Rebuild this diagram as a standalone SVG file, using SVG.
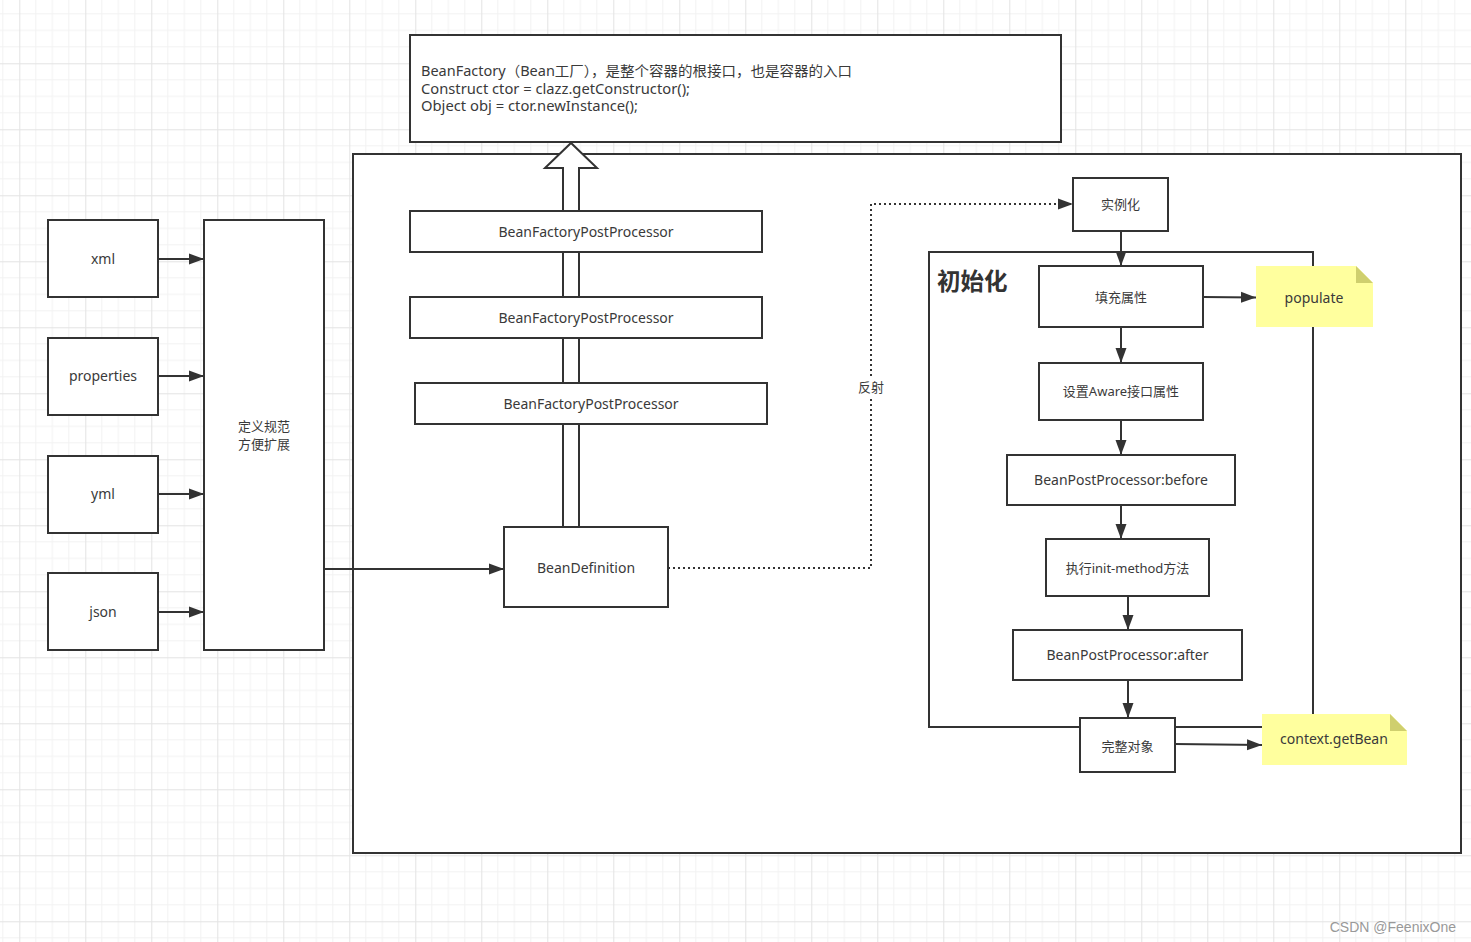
<svg xmlns="http://www.w3.org/2000/svg" width="1471" height="942" viewBox="0 0 1471 942">
<style>
.box{fill:#fff;stroke:#333;stroke-width:2}
.t{font-family:"Noto Sans","Noto Sans CJK SC",sans-serif;font-size:14px;fill:#3a3a3a;text-anchor:middle;dominant-baseline:central}
.tl{font-family:"Noto Sans","Noto Sans CJK SC",sans-serif;font-size:14px;fill:#3a3a3a}
.c{fill:none;stroke:#333;stroke-width:2}
.note{fill:#ffff9e}
.fold{fill:#cfcf6e}
</style>
<defs>
<pattern id="grid" patternUnits="userSpaceOnUse" x="19.3" y="63.3" width="66" height="66">
<path d="M16.5 0V66M33 0V66M49.5 0V66M0 16.5H66M0 33H66M0 49.5H66" stroke="#f2f2f2" stroke-width="1" fill="none"/>
<path d="M0.5 0V66M0 0.5H66" stroke="#e3e3e3" stroke-width="1" fill="none"/>
</pattern>
<marker id="arr" markerUnits="userSpaceOnUse" markerWidth="16" markerHeight="12" refX="15" refY="6" orient="auto">
<path d="M0 0.5L15 6L0 11.5Z" fill="#333"/>
</marker>
</defs>
<rect width="1471" height="942" fill="#fff"/>
<rect width="1471" height="942" fill="url(#grid)"/>

<g id="beanfactory">
<rect class="box" x="410" y="35" width="651" height="107"/>
<text class="tl" x="421" y="76" textLength="431" lengthAdjust="spacingAndGlyphs">BeanFactory（Bean工厂），是整个容器的根接口，也是容器的入口</text>
<text class="tl" x="421" y="94" textLength="269" lengthAdjust="spacingAndGlyphs">Construct ctor = clazz.getConstructor();</text>
<text class="tl" x="421" y="111" textLength="217" lengthAdjust="spacingAndGlyphs">Object obj = ctor.newInstance();</text>
</g>

<g id="container">
<rect class="box" x="353" y="154" width="1108" height="699" fill="none"/>
</g>

<g id="connectors">
<path d="M563 527V168H545L571 143L597 168H579V527" fill="#fff" stroke="#333" stroke-width="2"/>
<line class="c" x1="158" y1="259" x2="204" y2="259" marker-end="url(#arr)"/>
<line class="c" x1="158" y1="376" x2="204" y2="376" marker-end="url(#arr)"/>
<line class="c" x1="158" y1="494" x2="204" y2="494" marker-end="url(#arr)"/>
<line class="c" x1="158" y1="612" x2="204" y2="612" marker-end="url(#arr)"/>
<line class="c" x1="324" y1="569" x2="504" y2="569" marker-end="url(#arr)"/>
<path d="M668 568H871V204H1073" fill="none" stroke="#333" stroke-width="2" stroke-dasharray="2 3" marker-end="url(#arr)"/>
<rect x="856" y="378" width="30" height="18" fill="#fff"/>
<text class="t" x="871" y="387" style="font-size:13px">反射</text>
</g>

<g id="init-group">
<rect class="box" x="929" y="252" width="384" height="475" fill="none"/>
<text x="937" y="290" style="font-family:'Noto Sans CJK SC',sans-serif;font-size:23.5px;font-weight:bold;fill:#333">初始化</text>
</g>

<g id="connectors-right">
<line class="c" x1="1121" y1="231" x2="1121" y2="266" marker-end="url(#arr)"/>
<line class="c" x1="1203" y1="297" x2="1256" y2="297.5" marker-end="url(#arr)"/>
<line class="c" x1="1121" y1="327" x2="1121" y2="363" marker-end="url(#arr)"/>
<line class="c" x1="1121" y1="420" x2="1121" y2="455" marker-end="url(#arr)"/>
<line class="c" x1="1121" y1="505" x2="1121" y2="539" marker-end="url(#arr)"/>
<line class="c" x1="1128" y1="596" x2="1128" y2="630" marker-end="url(#arr)"/>
<line class="c" x1="1128" y1="680" x2="1128" y2="718" marker-end="url(#arr)"/>
<line class="c" x1="1175" y1="744" x2="1262" y2="745" marker-end="url(#arr)"/>
</g>

<g id="bfpp1"><rect class="box" x="410" y="211" width="352" height="41"/><text class="t" x="586" y="231">BeanFactoryPostProcessor</text></g>
<g id="bfpp2"><rect class="box" x="410" y="297" width="352" height="41"/><text class="t" x="586" y="317">BeanFactoryPostProcessor</text></g>
<g id="bfpp3"><rect class="box" x="415" y="383" width="352" height="41"/><text class="t" x="591" y="403">BeanFactoryPostProcessor</text></g>
<g id="beandefinition"><rect class="box" x="504" y="527" width="164" height="80"/><text class="t" x="586" y="567">BeanDefinition</text></g>

<g id="xml"><rect class="box" x="48" y="220" width="110" height="77"/><text class="t" x="103" y="258">xml</text></g>
<g id="properties"><rect class="box" x="48" y="338" width="110" height="77"/><text class="t" x="103" y="375">properties</text></g>
<g id="yml"><rect class="box" x="48" y="456" width="110" height="77"/><text class="t" x="103" y="493">yml</text></g>
<g id="json"><rect class="box" x="48" y="573" width="110" height="77"/><text class="t" x="103" y="611">json</text></g>
<g id="spec"><rect class="box" x="204" y="220" width="120" height="430"/><text class="t" x="264" y="426" style="font-size:13px">定义规范</text><text class="t" x="264" y="444" style="font-size:13px">方便扩展</text></g>

<g id="instantiate"><rect class="box" x="1073" y="178" width="95" height="53"/><text class="t" x="1120.5" y="204" style="font-size:13px">实例化</text></g>
<g id="populate-box"><rect class="box" x="1039" y="266" width="164" height="61"/><text class="t" x="1121" y="297" style="font-size:13px">填充属性</text></g>
<g id="populate-note"><path class="note" d="M1256 266H1356L1373 283V327H1256Z"/><path class="fold" d="M1356 266L1373 283H1356Z"/><text class="t" x="1314" y="297">populate</text></g>
<g id="aware"><rect class="box" x="1039" y="363" width="164" height="57"/><text class="t" x="1121" y="391" style="font-size:13px">设置Aware接口属性</text></g>
<g id="bpp-before"><rect class="box" x="1007" y="455" width="228" height="50"/><text class="t" x="1121" y="479.5">BeanPostProcessor:before</text></g>
<g id="init-method"><rect class="box" x="1046" y="539" width="163" height="57"/><text class="t" x="1127.5" y="567.5" style="font-size:13px">执行init-method方法</text></g>
<g id="bpp-after"><rect class="box" x="1013" y="630" width="229" height="50"/><text class="t" x="1127.5" y="654.5">BeanPostProcessor:after</text></g>
<g id="complete"><rect class="box" x="1080" y="718" width="95" height="54"/><text class="t" x="1127.5" y="745.5" style="font-size:13px">完整对象</text></g>
<g id="getbean-note"><path class="note" d="M1262 714H1390L1407 731V765H1262Z"/><path class="fold" d="M1390 714L1407 731H1390Z"/><text class="t" x="1334" y="738.5">context.getBean</text></g>

<text x="1456" y="932" text-anchor="end" style="font-family:'Liberation Sans',sans-serif;font-size:14px;fill:#999">CSDN @FeenixOne</text>
</svg>
